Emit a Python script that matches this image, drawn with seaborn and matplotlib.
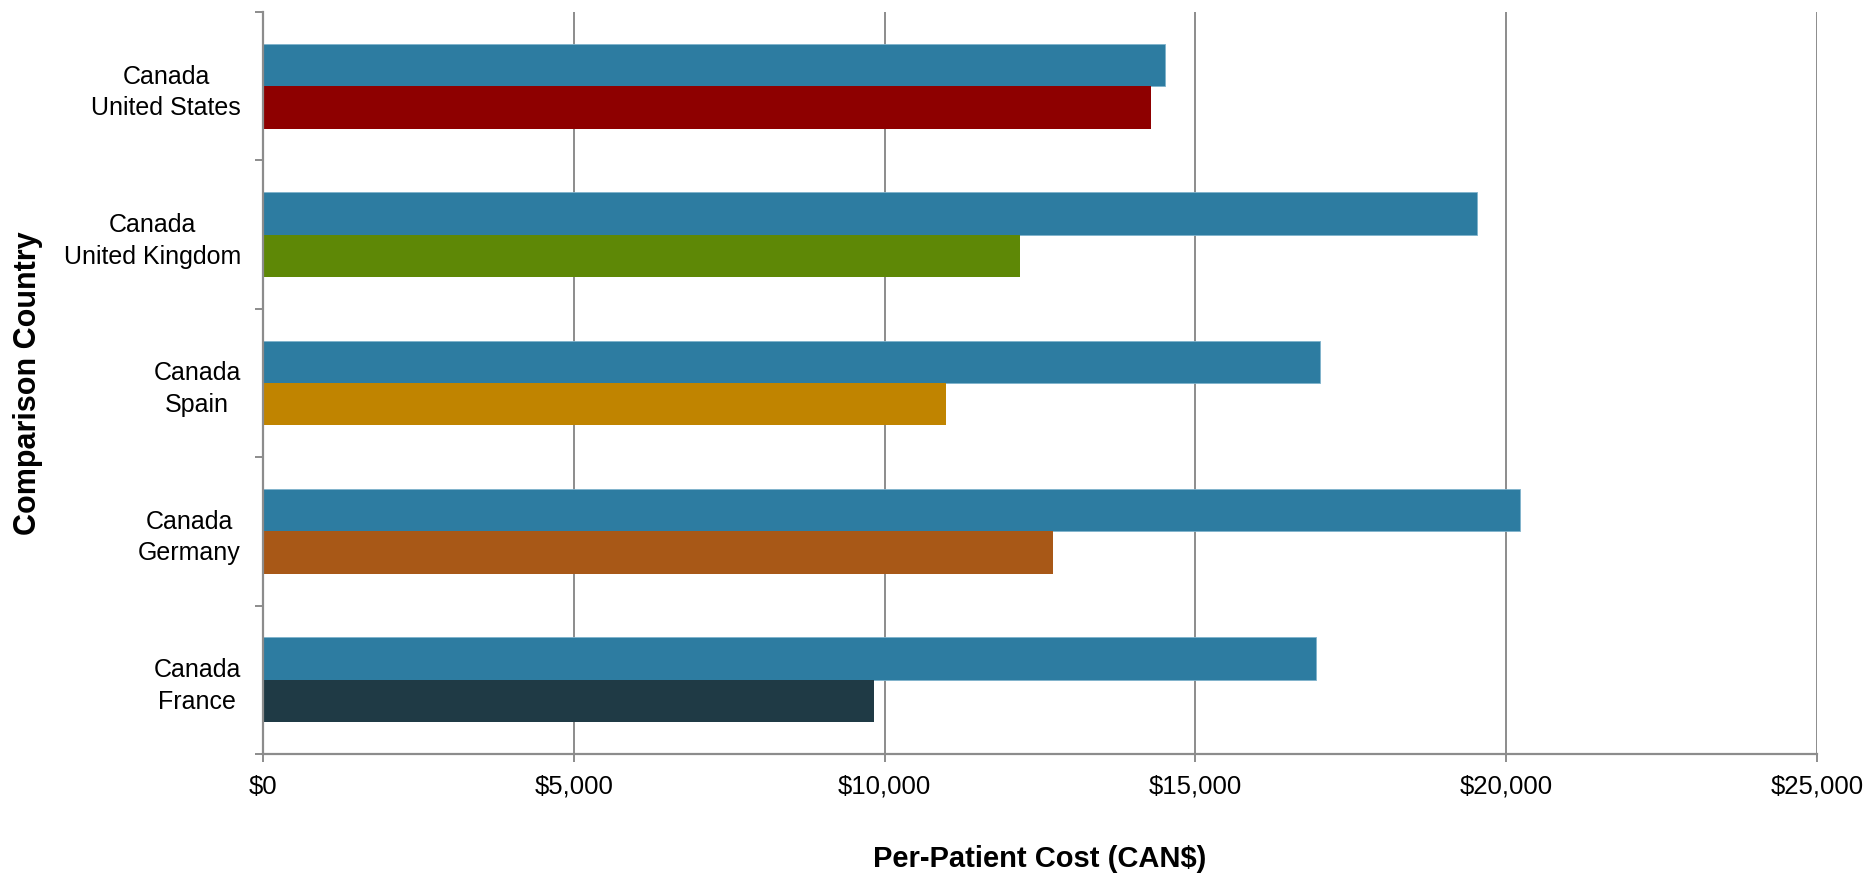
import numpy as np
import pandas as pd
import seaborn as sns
import matplotlib.pyplot as plt
from matplotlib.ticker import FuncFormatter, FixedLocator

# Dữ liệu
countries = ["United States", "United Kingdom", "Spain", "Germany", "France"]
canada_cost = [14510, 19530, 17000, 20220, 16940]
comparison_cost = [14280, 12170, 10980, 12710, 9830]
canada_color = "#2d7ca1"
country_colors = ["#8e0000", "#5e8806", "#c08400", "#a85817", "#1f3a45"]
x_ticks = [0, 5000, 10000, 15000, 20000, 25000]

df = pd.DataFrame({
    "country": countries * 2,
    "series": ["Canada"] * len(countries) + ["Comparison"] * len(countries),
    "cost": canada_cost + comparison_cost,
})

sns.set_style("white")
plt.rcParams["font.family"] = ["Liberation Sans", "DejaVu Sans"]
plt.rcParams["text.color"] = "black"
plt.rcParams["xtick.labelcolor"] = "black"
plt.rcParams["ytick.labelcolor"] = "black"
plt.rcParams["axes.labelcolor"] = "black"

fig = plt.figure(figsize=(18.67, 8.76), dpi=100)
ax = fig.add_axes([0.1409, 0.1393, 0.9732 - 0.1409, 0.9863 - 0.1393])

sns.barplot(data=df, y="country", x="cost", hue="series", order=countries,
            palette=[canada_color, "#888888"], width=0.571, gap=0,
            saturation=1, legend=False, ax=ax, orient="h")

# Tô màu riêng cho từng nước so sánh
for patch, col in zip(ax.containers[1], country_colors):
    patch.set_facecolor(col)
    patch.set_linewidth(0)
for patch in ax.containers[0]:
    patch.set_edgecolor("#7fb3cc")
    patch.set_linewidth(0.6)

grid_col = "#8c8c8c"
ax.set_xlim(0, 25000)
ax.set_ylim(len(countries) - 0.5, -0.5)
ax.xaxis.set_major_locator(FixedLocator(x_ticks))
ax.xaxis.set_major_formatter(FuncFormatter(lambda v, p: f"${v:,.0f}"))
ax.grid(axis="x", color=grid_col, linewidth=1.4)
ax.set_axisbelow(True)

ax.set_yticks(range(len(countries)))
ax.set_yticklabels(["Canada\n" + c for c in countries], ha="right",
                   multialignment="center", linespacing=1.4)
ax.set_yticks(np.arange(-0.5, len(countries)), minor=True)
ax.tick_params(axis="y", which="major", length=0, pad=16, labelsize=18)
ax.tick_params(axis="y", which="minor", length=6, width=1.4, color=grid_col, direction="out", left=True)
ax.tick_params(axis="x", length=6, width=1.4, color=grid_col, direction="out", pad=9, labelsize=18.5, bottom=True)

for s in ["top", "right"]:
    ax.spines[s].set_visible(False)
for s in ["left", "bottom"]:
    ax.spines[s].set_color(grid_col)
    ax.spines[s].set_linewidth(1.6)

ax.set_xlabel("Per-Patient Cost (CAN$)", fontsize=21, fontweight="bold", va="center")
ax.set_ylabel("Comparison Country", fontsize=22, fontweight="bold", va="center")
ax.xaxis.set_label_coords(0.5, -0.142)
ax.yaxis.set_label_coords(-0.151, 0.5)

fig.savefig("out.png", dpi=100)
